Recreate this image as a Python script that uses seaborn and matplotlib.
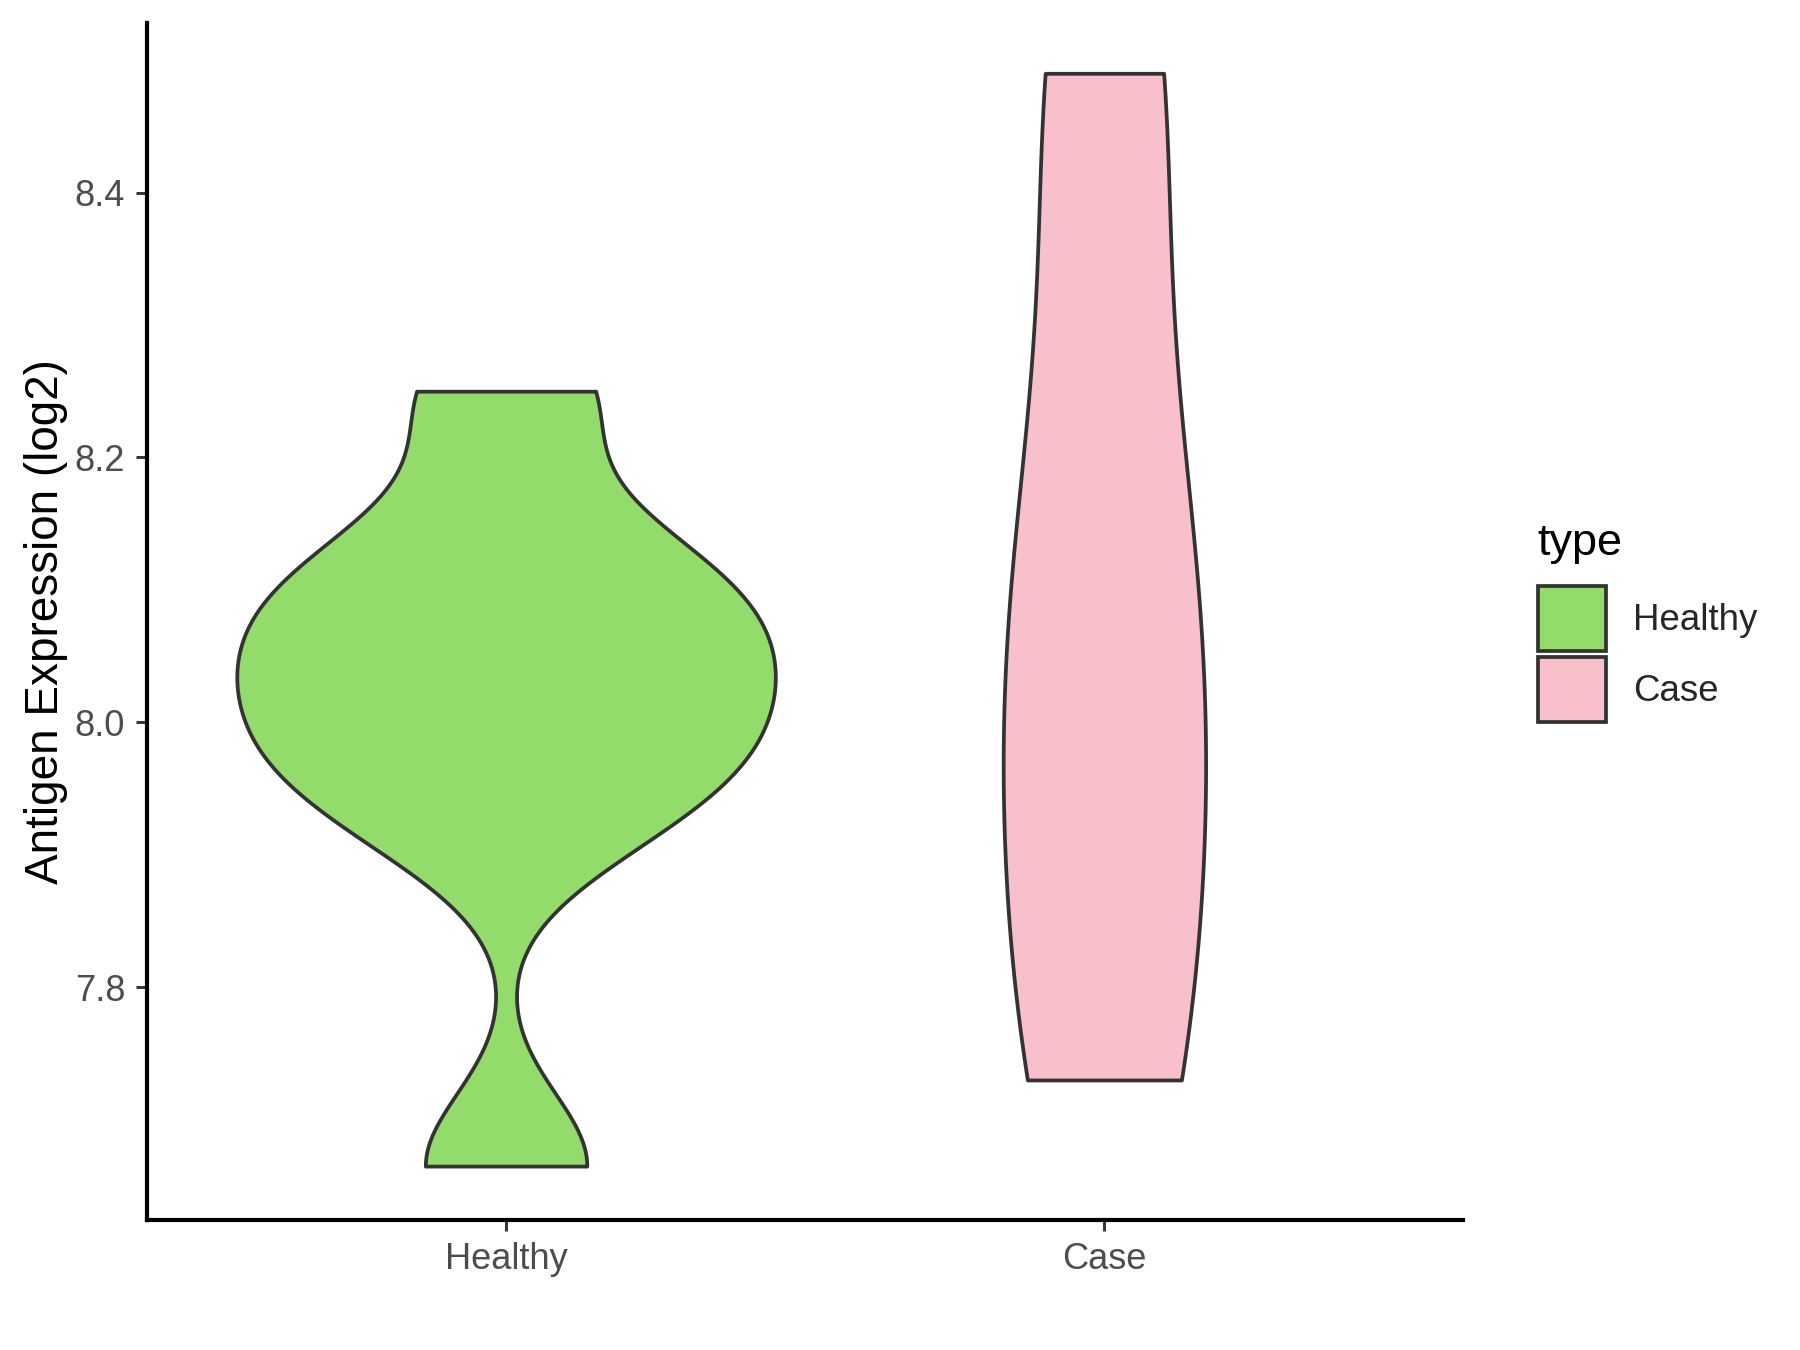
"""
Violin plot of antigen expression (log2) for Healthy vs Case samples,
styled after a ggplot2 classic theme.
"""

import matplotlib
matplotlib.use("Agg")

import matplotlib.patches as mpatches
import matplotlib.pyplot as plt
import numpy as np
import pandas as pd
import seaborn as sns


# ======================================================
# DATA
# ======================================================

groups = ["Healthy", "Case"]
healthy_vals = [7.665, 7.925, 7.97, 8.01, 8.05, 8.09, 8.13, 8.25]
case_vals = [7.73, 7.95, 8.15, 8.49]
y_ticks = [7.8, 8.0, 8.2, 8.4]

colors = {"Healthy": "#93DB6A", "Case": "#F7C0CB"}
bw_adjust = {"Healthy": 0.88, "Case": 1.0}
edge = "#333333"
MAX_WIDTH = 0.9


def nrd0_bw(x: np.ndarray) -> float:
    """R's bw.nrd0 bandwidth."""
    sd = np.std(x, ddof=1)
    q1, q3 = np.percentile(x, [25, 75])
    return 0.9 * min(sd, (q3 - q1) / 1.34) * len(x) ** -0.2


def nrd0(kde) -> float:
    """bw.nrd0 as a scipy-style bandwidth factor."""
    x = kde.dataset[0]
    return nrd0_bw(x) / np.std(x, ddof=1)


def peak_density(vals, adjust: float) -> float:
    """Max of the trimmed gaussian KDE, used to keep violin areas equal."""
    x = np.asarray(vals)
    h = nrd0_bw(x) * adjust
    grid = np.linspace(x.min(), x.max(), 512)
    k = np.exp(-0.5 * ((grid[:, None] - x[None, :]) / h) ** 2)
    return (k.sum(axis=1) / (len(x) * h * np.sqrt(2 * np.pi))).max()


df = pd.DataFrame({
    "type": ["Healthy"] * len(healthy_vals) + ["Case"] * len(case_vals),
    "expr": healthy_vals + case_vals,
})

peaks = {
    "Healthy": peak_density(healthy_vals, bw_adjust["Healthy"]),
    "Case": peak_density(case_vals, bw_adjust["Case"]),
}
top_peak = max(peaks.values())

# ======================================================
# FIGURE
# ======================================================

sns.set_style("white")
plt.rcParams["font.family"] = ["Liberation Sans", "DejaVu Sans"]

fig = plt.figure(figsize=(6, 4.5), dpi=300)
ax = fig.add_axes([0.0817, 0.096, 0.813 - 0.0817, 0.983 - 0.096])

for g in groups:
    sns.violinplot(
        data=df[df["type"] == g], x="type", y="expr", order=groups,
        color=colors[g], saturation=1, cut=0, inner=None,
        bw_method=nrd0, bw_adjust=bw_adjust[g], gridsize=512,
        width=MAX_WIDTH * peaks[g] / top_peak,
        linewidth=0.9, linecolor=edge, ax=ax,
    )

ax.set_xlim(-0.6, 1.6)
ax.set_ylim(7.624, 8.528)
ax.set_yticks(y_ticks)
ax.set_yticklabels([f"{t:.1f}" for t in y_ticks])
ax.set_xlabel("")
ax.set_ylabel("Antigen Expression (log2)", fontsize=11, color="black",
              labelpad=1.5)

for side in ["top", "right"]:
    ax.spines[side].set_visible(False)
for side in ["left", "bottom"]:
    ax.spines[side].set_color("black")
    ax.spines[side].set_linewidth(1.0)
ax.tick_params(axis="both", length=2.75, width=0.7, color=edge,
               labelsize=8.7, labelcolor="#4D4D4D", direction="out",
               left=True, bottom=True, pad=2.5)

# legend: title as its own text so the gap above the keys matches ggplot
handles = [
    mpatches.Patch(facecolor=colors[g], edgecolor=edge, linewidth=0.9, label=g)
    for g in groups
]
fig.legend(
    handles=handles, loc="center left",
    bbox_to_anchor=(0.836, 0.5156), frameon=False,
    fontsize=8.8, handlelength=1.85, handleheight=2.35,
    labelspacing=0.15, handletextpad=0.75,
)
fig.text(0.854, 0.589, "type", fontsize=10.8, color="black",
         ha="left", va="baseline")

fig.savefig("out.png", dpi=300)
